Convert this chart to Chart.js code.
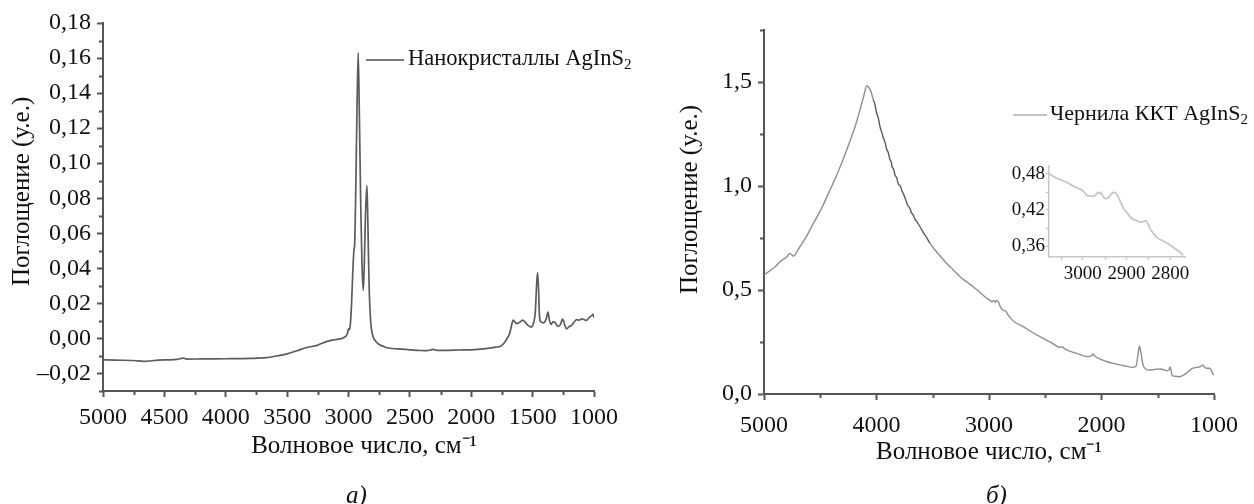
<!DOCTYPE html>
<html lang="ru">
<head>
<meta charset="utf-8">
<script src="https://cdn.jsdelivr.net/npm/chart.js@4.4.0/dist/chart.umd.min.js"></script>
<style>
    html, body { margin: 0; padding: 0; background: #fff; }
    body {
        width: 1254px; height: 504px; position: relative; overflow: hidden;
        font-family: "Liberation Serif", "Times New Roman", serif; color: #111;
    }
    canvas { position: absolute; }
    .txt { position: absolute; font-size: 22.5px; line-height: 23px; white-space: nowrap; }
    .swatch { position: absolute; height: 2px; }
    .cap { font-style: italic; font-size: 25px; line-height: 25px; }
    sub { font-size: 15px; vertical-align: -4px; line-height: 0; }
</style>
</head>
<body>
<canvas id="chartA" width="640" height="504" style="left:0;top:0"></canvas>
<canvas id="chartB" width="614" height="504" style="left:640px;top:0"></canvas>
<canvas id="chartInset" width="210" height="150" style="left:990px;top:150px"></canvas>

<div class="swatch" style="left:366px;top:59px;width:38px;background:#7a7a7a"></div>
<div class="txt" style="left:408px;top:46px">Нанокристаллы AgInS<sub>2</sub></div>
<div class="swatch" style="left:1013px;top:114px;width:34px;background:#c4c4c4"></div>
<div class="txt" style="left:1050px;top:101px;font-size:22px">Чернила ККТ AgInS<sub>2</sub></div>
<div class="txt cap" style="left:346px;top:482px">а)</div>
<div class="txt cap" style="left:986px;top:482px">б)</div>

<script>
// а) Нанокристаллы AgInS2
const waveA = [5000, 4900, 4750, 4670, 4550, 4400, 4345, 4320, 4200, 4000, 3800, 3670, 3580, 3500, 3420, 3340, 3250, 3180, 3100, 3040,
    3010, 3000, 2992, 2985, 2975, 2965, 2955, 2950, 2942, 2932, 2921, 2912, 2900, 2890, 2880, 2872, 2862, 2850, 2842, 2832,
    2820, 2800, 2785, 2750, 2717, 2690, 2600, 2500, 2400, 2360, 2310, 2280, 2200, 2100, 2000, 1900, 1800, 1760, 1730, 1700,
    1686, 1670, 1658, 1640, 1626, 1600, 1582, 1560, 1537, 1512, 1490, 1478, 1468, 1460, 1452, 1445, 1438, 1425, 1414, 1390,
    1375, 1362, 1350, 1335, 1319, 1300, 1290, 1270, 1258, 1250, 1235, 1224, 1200, 1183, 1160, 1142, 1120, 1102, 1080, 1061,
    1040, 1034, 1015, 1007, 1000];
const absA = [-0.0122, -0.0124, -0.0126, -0.0131, -0.0124, -0.0120, -0.0112, -0.0118, -0.0117, -0.0116, -0.0114, -0.0110, -0.0100, -0.0088, -0.0070, -0.0052, -0.0038, -0.0018, -0.0006, 0.0004,
    0.0025, 0.0055, 0.0050, 0.0080, 0.0200, 0.0380, 0.0510, 0.0535, 0.0800, 0.1250, 0.1630, 0.1300, 0.0750, 0.0420, 0.0274, 0.0400, 0.0700, 0.0874, 0.0650, 0.0300,
    0.0103, 0.0010, -0.0010, -0.0035, -0.0045, -0.0053, -0.0060, -0.0065, -0.0069, -0.0070, -0.0062, -0.0068, -0.0068, -0.0066, -0.0065, -0.0060, -0.0050, -0.0044, -0.0025, 0.0010,
    0.0030, 0.0080, 0.0105, 0.0090, 0.0084, 0.0095, 0.0105, 0.0092, 0.0074, 0.0065, 0.0095, 0.0150, 0.0300, 0.0375, 0.0290, 0.0140, 0.0100, 0.0092, 0.0088, 0.0110,
    0.0150, 0.0100, 0.0080, 0.0095, 0.0093, 0.0072, 0.0069, 0.0085, 0.0110, 0.0103, 0.0070, 0.0055, 0.0068, 0.0074, 0.0095, 0.0107, 0.0104, 0.0112, 0.0108, 0.0103,
    0.0118, 0.0122, 0.0132, 0.0137, 0.0118];
const xTicksA = [5000, 4500, 4000, 3500, 3000, 2500, 2000, 1500, 1000];
const yTicksA = [-0.02, 0, 0.02, 0.04, 0.06, 0.08, 0.10, 0.12, 0.14, 0.16, 0.18];

// б) Чернила ККТ AgInS2
const waveB = [5000, 4950, 4900, 4858, 4800, 4769, 4750, 4739, 4700, 4680, 4620, 4561, 4500, 4413, 4340, 4265, 4200, 4176, 4140, 4110,
    4087, 4070, 4050, 4028, 4015, 4000, 3985, 3969, 3955, 3940, 3925, 3910, 3895, 3880, 3870, 3860, 3848, 3835, 3820, 3805,
    3790, 3775, 3761, 3748, 3735, 3720, 3705, 3690, 3675, 3660, 3640, 3613, 3590, 3570, 3550, 3524, 3480, 3436, 3380, 3317,
    3250, 3200, 3140, 3080, 3030, 2990, 2977, 2955, 2945, 2930, 2915, 2900, 2880, 2860, 2850, 2840, 2800, 2770, 2696, 2620,
    2548, 2450, 2370, 2345, 2330, 2250, 2180, 2133, 2090, 2074, 2055, 2000, 1950, 1896, 1800, 1719, 1692, 1675, 1662, 1650,
    1630, 1610, 1585, 1540, 1500, 1481, 1450, 1422, 1400, 1390, 1380, 1372, 1340, 1307, 1280, 1247, 1220, 1188, 1150, 1120,
    1099, 1085, 1070, 1041, 1020, 1004];
const absB = [0.572, 0.592, 0.612, 0.636, 0.658, 0.676, 0.668, 0.663, 0.690, 0.708, 0.760, 0.820, 0.880, 0.981, 1.070, 1.173, 1.270, 1.310, 1.380, 1.440,
    1.482, 1.475, 1.455, 1.413, 1.395, 1.352, 1.330, 1.285, 1.262, 1.232, 1.212, 1.178, 1.160, 1.125, 1.118, 1.090, 1.082, 1.052, 1.040, 1.008,
    1.002, 0.978, 0.962, 0.945, 0.925, 0.905, 0.895, 0.872, 0.862, 0.842, 0.828, 0.804, 0.782, 0.765, 0.748, 0.724, 0.692, 0.665, 0.630, 0.596,
    0.560, 0.540, 0.516, 0.488, 0.465, 0.450, 0.444, 0.449, 0.440, 0.450, 0.442, 0.420, 0.405, 0.400, 0.399, 0.388, 0.360, 0.345, 0.324, 0.298,
    0.276, 0.248, 0.225, 0.226, 0.218, 0.200, 0.188, 0.180, 0.183, 0.192, 0.180, 0.165, 0.155, 0.147, 0.136, 0.128, 0.135, 0.190, 0.231, 0.200,
    0.139, 0.122, 0.115, 0.117, 0.120, 0.119, 0.118, 0.112, 0.116, 0.130, 0.110, 0.088, 0.085, 0.083, 0.088, 0.099, 0.112, 0.124, 0.128, 0.132,
    0.139, 0.130, 0.124, 0.124, 0.110, 0.090];
const xTicksB = [5000, 4000, 3000, 2000, 1000];
const yTicksB = [0, 0.5, 1.0, 1.5];

// вставка: область 3080-2770 см-1
const waveInset = [3077, 3060, 3037, 3014, 3000, 2987, 2975, 2964, 2957, 2949, 2942, 2930, 2924, 2919, 2907, 2896, 2888, 2875, 2869, 2860,
    2855, 2850, 2846, 2838, 2831, 2815, 2800, 2785, 2770];
const absInset = [0.480, 0.473, 0.466, 0.457, 0.452, 0.443, 0.443, 0.449, 0.447, 0.439, 0.440, 0.449, 0.448, 0.442, 0.423, 0.413, 0.406, 0.402, 0.400, 0.401,
    0.402, 0.396, 0.389, 0.381, 0.375, 0.368, 0.362, 0.354, 0.345];
const xTicksInset = [3000, 2900, 2800];
const yTicksInset = [0.36, 0.42, 0.48];

const serif = '"Liberation Serif", "Times New Roman", serif';
const comma = (v, d) => (v < 0 ? "\u2013" : "") + Math.abs(v).toFixed(d).replace(".", ",");
const xTitle = "Волновое число, см\u207B\u00B9";
const yTitle = "Поглощение (у.е.)";

// short ticks between the labelled ones
const minorTicks = {
    id: "minorTicks",
    afterDraw(chart, args, opts) {
        const ctx = chart.ctx;
        const area = chart.chartArea;
        ctx.save();
        ctx.strokeStyle = opts.color;
        ctx.lineWidth = opts.width;
        opts.axes.forEach((a) => {
            const scale = chart.scales[a.id];
            const first = Math.ceil(scale.min / a.step - 1e-6);
            const last = Math.floor(scale.max / a.step + 1e-6);
            for (let i = first; i <= last; i++) {
                const v = i * a.step;
                if (scale.ticks.some((t) => Math.abs(t.value - v) < a.step / 10)) continue;
                const p = Math.round(scale.getPixelForValue(v)) + 0.5;
                ctx.beginPath();
                if (scale.isHorizontal()) {
                    ctx.moveTo(p, area.bottom);
                    ctx.lineTo(p, area.bottom + opts.len);
                } else {
                    ctx.moveTo(area.left, p);
                    ctx.lineTo(area.left - opts.len, p);
                }
                ctx.stroke();
            }
        });
        ctx.restore();
    },
};

function axis(o) {
    return {
        type: "linear",
        min: o.min,
        max: o.max,
        reverse: !!o.reverse,
        border: { display: true, color: o.color, width: o.width },
        grid: {
            display: true,
            drawOnChartArea: false,
            drawTicks: true,
            tickLength: o.tickLength,
            tickWidth: o.width,
            tickColor: o.color,
        },
        ticks: {
            color: "#111",
            padding: o.padding,
            font: { family: serif, size: o.fontSize },
            maxRotation: 0,
            autoSkip: false,
            callback: o.fmt,
        },
        title: o.title
            ? {
                  display: true,
                  text: o.title,
                  color: "#111",
                  font: { family: serif, size: 25 },
                  padding: o.titlePad,
              }
            : { display: false },
        afterBuildTicks(scale) {
            scale.ticks = o.tickValues.map((v) => ({ value: v }));
        },
        afterFit(scale) {
            if (scale.isHorizontal()) scale.height = o.size;
            else scale.width = o.size;
        },
    };
}

function lineData(xs, ys, color, width, segColor) {
    const ds = {
        data: xs.map((x, i) => ({ x: x, y: ys[i] })),
        borderColor: color,
        borderWidth: width,
        pointRadius: 0,
        cubicInterpolationMode: "monotone",
        fill: false,
    };
    if (segColor) ds.segment = { borderColor: segColor };
    return { datasets: [ds] };
}

function baseOptions(padding, minor) {
    return {
        responsive: false,
        animation: false,
        events: [],
        layout: { padding: padding, autoPadding: false },
        plugins: { legend: { display: false }, tooltip: { enabled: false }, minorTicks: minor },
    };
}

document.addEventListener("DOMContentLoaded", function () {
    const optsA = baseOptions({ top: 23, right: 46, left: 0, bottom: 0 }, {
        color: "#555", width: 2, len: 4,
        axes: [{ id: "x", step: 250 }, { id: "y", step: 0.01 }],
    });
    // leading spaces nudge the centred titles the way the original is set
    optsA.scales = {
        x: axis({ min: 1000, max: 5000, reverse: true, color: "#555", width: 2, tickLength: 6, padding: 6, fontSize: 24,
            tickValues: xTicksA, fmt: (v) => String(v), title: "     " + xTitle,
            titlePad: { top: 0, bottom: 43 }, size: 113 }),
        y: axis({ min: -0.03, max: 0.18, color: "#555", width: 2, tickLength: 6, padding: 6, fontSize: 24,
            tickValues: yTicksA, fmt: (v) => comma(v, 2), title: "     " + yTitle,
            titlePad: { top: 7, bottom: 0 }, size: 103 }),
    };
    new Chart(document.getElementById("chartA"), {
        type: "line",
        data: lineData(waveA, absA, "#5c5c5c", 1.7),
        options: optsA,
        plugins: [minorTicks],
    });

    const optsB = baseOptions({ top: 30, right: 40, left: 0, bottom: 0 }, {
        color: "#555", width: 2, len: 4,
        axes: [{ id: "x", step: 500 }, { id: "y", step: 0.25 }],
    });
    optsB.scales = {
        x: axis({ min: 1000, max: 5000, reverse: true, color: "#555", width: 2, tickLength: 6, padding: 11, fontSize: 24,
            tickValues: xTicksB, fmt: (v) => String(v), title: xTitle,
            titlePad: { top: 0, bottom: 37 }, size: 110 }),
        y: axis({ min: 0, max: 1.75, color: "#555", width: 2, tickLength: 6, padding: 6, fontSize: 24,
            tickValues: yTicksB, fmt: (v) => comma(v, 1), title: "    " + yTitle,
            titlePad: { top: 35, bottom: 0 }, size: 124 }),
    };
    new Chart(document.getElementById("chartB"), {
        type: "line",
        data: lineData(waveB, absB, "#8e8e8e", 1.4, (ctx) =>
            ctx.p0.parsed.x < 4040 && ctx.p0.parsed.x > 3540 ? "#5a5a5a" : "#8e8e8e"),
        options: optsB,
        plugins: [minorTicks],
    });

    const optsI = baseOptions({ top: 16, right: 15, left: 0, bottom: 0 }, {
        color: "#c8c8c8", width: 1.5, len: 3,
        axes: [{ id: "x", step: 50 }, { id: "y", step: 0.03 }],
    });
    optsI.scales = {
        x: axis({ min: 2766, max: 3077, reverse: true, color: "#c8c8c8", width: 1.5, tickLength: 3, padding: 3, fontSize: 19,
            tickValues: xTicksInset, fmt: (v) => String(v), size: 43 }),
        y: axis({ min: 0.342, max: 0.493, color: "#c8c8c8", width: 1.5, tickLength: 3, padding: 1, fontSize: 19,
            tickValues: yTicksInset, fmt: (v) => comma(v, 2), size: 59 }),
    };
    new Chart(document.getElementById("chartInset"), {
        type: "line",
        data: lineData(waveInset, absInset, "#c6c6c6", 1.8),
        options: optsI,
        plugins: [minorTicks],
    });
});
</script>
</body>
</html>
